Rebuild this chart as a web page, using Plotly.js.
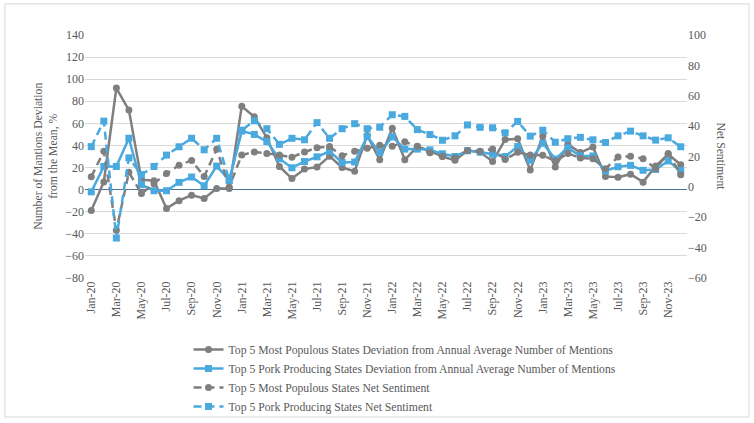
<!DOCTYPE html>
<html>
<head>
<meta charset="utf-8">
<script src="https://cdn.plot.ly/plotly-3.0.1.min.js"></script>
<style>
html,body{margin:0;padding:0;background:#fff;}
#chart{width:754px;height:423px;}
</style>
</head>
<body>
<div id="chart"></div>
<script>
const months = ['Jan-20','Feb-20','Mar-20','Apr-20','May-20','Jun-20','Jul-20','Aug-20','Sep-20','Oct-20','Nov-20','Dec-20',
'Jan-21','Feb-21','Mar-21','Apr-21','May-21','Jun-21','Jul-21','Aug-21','Sep-21','Oct-21','Nov-21','Dec-21',
'Jan-22','Feb-22','Mar-22','Apr-22','May-22','Jun-22','Jul-22','Aug-22','Sep-22','Oct-22','Nov-22','Dec-22',
'Jan-23','Feb-23','Mar-23','Apr-23','May-23','Jun-23','Jul-23','Aug-23','Sep-23','Oct-23','Nov-23','Dec-23'];

const tickLabels = ['Jan-20','Mar-20','May-20','Jul-20','Sep-20','Nov-20','Jan-21','Mar-21','May-21','Jul-21','Sep-21','Nov-21',
'Jan-22','Mar-22','May-22','Jul-22','Sep-22','Nov-22','Jan-23','Mar-23','May-23','Jul-23','Sep-23','Nov-23'];

// Top 5 Most Populous States Deviation from Annual Average Number of Mentions (left axis, %)
const populousDeviation = [-19,7,92,72,9,8,-17,-10,-5,-8,1,1,
75.5,66,47,21,10,18.6,20.4,30.3,20,16.7,49,27,
55.6,27,39,35,30,26.5,35.5,34,25.5,45.3,46,17.7,
48.3,20.4,41,33.6,38.7,12,11.2,14,6.8,21.3,32,22.5];

// Top 5 Pork Producing States Deviation from Annual Average Number of Mentions (left axis, %)
const porkDeviation = [-2,21,21,46.5,4.5,-1,-1,6.6,11.4,3.5,21.3,8.5,
53,50,43.5,28,19.8,25.5,29.7,34.7,24.6,25,48,33.8,
47.8,36.7,36.7,36,32.5,30,35.2,34,32,30,39,26.7,
42,27.7,37.8,30.5,30.5,17,20.7,22,17.5,18.3,26,17.2];

// Top 5 Most Populous States Net Sentiment (right axis)
const populousSentiment = [6.6,23.5,-28.6,9.6,-4.4,2,8.8,14.3,17.4,6.8,24.8,0,
21,23,22,21,19.5,23,25.7,26.6,20.5,23.5,25.4,27.4,
26.8,29.7,26.7,22.4,20.2,19,24,23.5,25,18,22.8,21,
20.8,17,22,19,18.5,12,19.6,20.2,18.6,12,22,8];

// Top 5 Pork Producing States Net Sentiment (right axis)
const porkSentiment = [26.5,43.3,-33.7,19.1,8.1,13.4,20.9,26.4,32,24.4,32,4.3,
37.3,43.5,38.3,28,32,31,42.3,32,38.3,41.6,38.3,39.3,
47.5,46.4,37.7,34.5,30.7,33.6,40.8,39.2,38.9,35.6,43.1,33.4,
37.3,29.4,31.7,32.6,31,29.2,33.6,36.7,33.6,30.8,32.3,26.4];

const seriesNames = [
  'Top 5 Most Populous States Deviation from Annual Average Number of Mentions',
  'Top 5 Pork Producing States Deviation from Annual Average Number of Mentions',
  'Top 5 Most Populous States Net Sentiment',
  'Top 5 Pork Producing States Net Sentiment'
];

const GRAY = '#7f7f7f';
const BLUE = '#4aa9de';
const FONT = '"Liberation Serif", "Times New Roman", serif';
const TXT = '#595959';
const FS = 11.7;

const traces = [
  {x: months, y: populousDeviation, name: seriesNames[0], type: 'scatter', mode: 'lines+markers',
   line: {color: GRAY, width: 2.5}, marker: {symbol: 'circle', size: 7, color: GRAY}},
  {x: months, y: porkDeviation, name: seriesNames[1], type: 'scatter', mode: 'lines+markers',
   line: {color: BLUE, width: 2.5}, marker: {symbol: 'square', size: 7, color: BLUE}},
  {x: months, y: populousSentiment, name: seriesNames[2], type: 'scatter', mode: 'lines+markers', yaxis: 'y2',
   line: {color: GRAY, width: 2.5, dash: '8px,5px'}, marker: {symbol: 'circle', size: 7, color: GRAY}},
  {x: months, y: porkSentiment, name: seriesNames[3], type: 'scatter', mode: 'lines+markers', yaxis: 'y2',
   line: {color: BLUE, width: 2.5, dash: '8px,5px'}, marker: {symbol: 'square', size: 7, color: BLUE}}
];

const layout = {
  width: 754, height: 423,
  margin: {l: 85, r: 67, t: 35, b: 144.5, autoexpand: false},
  paper_bgcolor: '#ffffff', plot_bgcolor: '#ffffff',
  font: {family: FONT, size: FS, color: TXT},
  showlegend: true,
  legend: {xref: 'container', yref: 'container', x: 0.25, y: 0.208, xanchor: 'left', yanchor: 'top', orientation: 'v',
           font: {family: FONT, size: FS, color: TXT}, bgcolor: 'rgba(0,0,0,0)', itemwidth: 30},
  xaxis: {type: 'category', categoryorder: 'array', categoryarray: months,
          tickmode: 'array', tickvals: tickLabels, ticktext: tickLabels,
          tickangle: -90, showgrid: false, zeroline: false, showline: false, ticks: '',
          tickfont: {family: FONT, size: 12, color: TXT}, range: [-0.5, 47.5], automargin: false},
  yaxis: {range: [-80, 140], dtick: 20, tick0: 0, showgrid: true, gridcolor: '#d9d9d9', gridwidth: 1,
          zeroline: true, zerolinecolor: '#4f7392', zerolinewidth: 1.5, showline: false, ticks: '',
          tickfont: {family: FONT, size: 12, color: TXT}, automargin: false},
  yaxis2: {range: [-60, 100], dtick: 20, tick0: 0, overlaying: 'y', side: 'right', showgrid: false,
           zeroline: false, showline: false, ticks: '', automargin: false,
           tickfont: {family: FONT, size: 12, color: TXT}},
  annotations: [
    {text: 'Number of Mantions Deviation<br>from the Mean, %', xref: 'paper', yref: 'paper',
     x: -0.066, y: 0.5, xanchor: 'center', yanchor: 'middle', textangle: -90, showarrow: false,
     font: {family: FONT, size: FS, color: TXT}},
    {text: 'Net Sentiment', xref: 'paper', yref: 'paper', x: 1.055, y: 0.5,
     xanchor: 'center', yanchor: 'middle', textangle: 90, showarrow: false,
     font: {family: FONT, size: FS, color: TXT}}
  ],
  shapes: [
    {type: 'rect', xref: 'paper', yref: 'paper', x0: -0.133, x1: 1.103, y0: -0.572, y1: 1.128,
     line: {color: '#d9d9d9', width: 1}, fillcolor: 'rgba(0,0,0,0)', layer: 'below'}
  ]
};

Plotly.newPlot('chart', traces, layout, {staticPlot: true, displayModeBar: false});
</script>
</body>
</html>
